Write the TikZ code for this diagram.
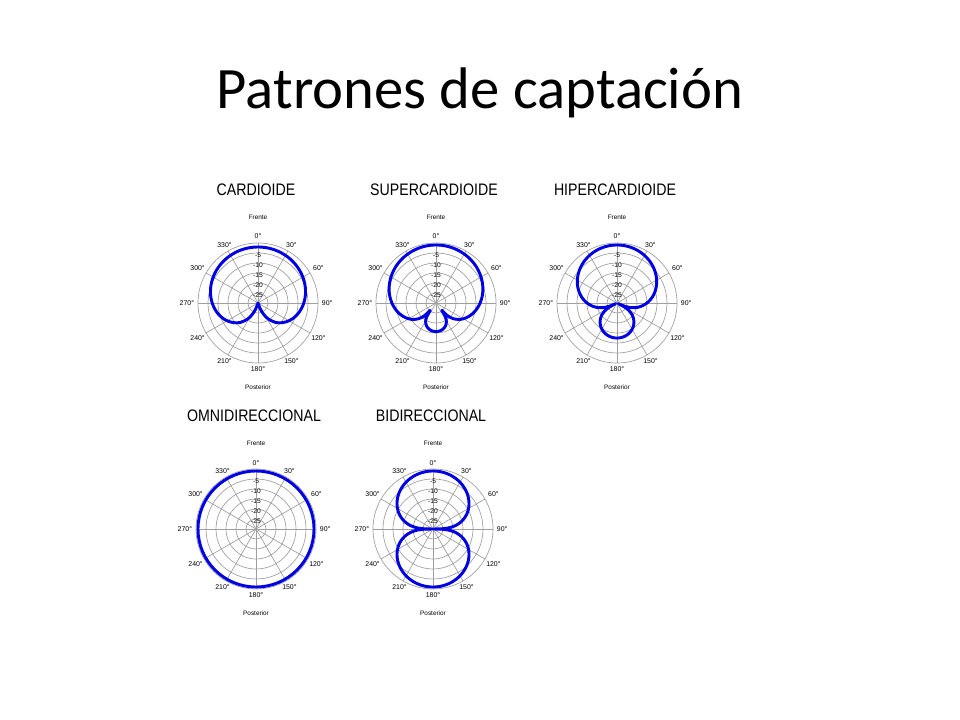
\documentclass[tikz,border=0pt]{standalone}
\usepackage{fontspec}
\setmainfont{Carlito}
\newfontfamily\plotfont{Liberation Sans}
\begin{document}
\begin{tikzpicture}[x=0.75pt,y=-0.75pt,
  gridline/.style={draw=gray!75, line width=0.5pt},
  patt/.style={draw=blue!90!black, line width=2.2pt, line join=round},
  angl/.style={font=\plotfont\fontsize{5.2}{6}\selectfont, inner sep=0.5pt},
  dbl/.style={font=\plotfont\fontsize{5}{6}\selectfont, inner sep=0.3pt},
  ttl/.style={font=\plotfont\fontsize{12.5}{14}\selectfont, xscale=0.85},
  side/.style={font=\plotfont\fontsize{4.8}{5}\selectfont, inner sep=0pt}]
\useasboundingbox (0,0) rectangle (960,720);
\fill[white] (0,0) rectangle (960,720);
\node[font=\fontsize{44}{50}\selectfont] (title) at (480,93) {Patrones de captación};

\newcommand{\gridplot}[5]{%
  \begin{scope}[shift={(#1,#2)}]
    \foreach \r in {10,20,...,60} \draw[gridline] (0,0) circle[radius=\r];
    \foreach \t in {0,30,...,330} \draw[gridline] (0,0) -- ({60*sin(\t)},{-60*cos(\t)});
    \foreach \t in {0,30,...,330} {
      \pgfmathsetmacro{\anc}{270-\t}
      \node[angl, anchor=\anc] at ({63*sin(\t)},{-63*cos(\t)}) {\t°};
    }
    \foreach \d/\r in {5/50,10/40,15/30,20/20,25/10}
      \node[dbl] at (0,{-\r+2}) {-\d};
    \node[side] (#5front) at (0,-86) {Frente};
    \node[side] (#5back) at (0,84) {Posterior};
    \node[ttl] (#5title) at (-2,-113) {#3};
    #4
  \end{scope}}

% CARDIOIDE
\gridplot{258}{303}{CARDIOIDE}{%
  \draw[patt] plot[domain=0:360, samples=241] ({(56*max(0.0,1+(20*log10(max(0.5+0.5*cos(\x),0.0001)))/33))*sin(\x)},{-(56*max(0.0,1+(20*log10(max(0.5+0.5*cos(\x),0.0001)))/33))*cos(\x)}) -- cycle;}{card}
% SUPERCARDIOIDE
\gridplot{436}{303}{SUPERCARDIOIDE}{%
  \draw[patt] plot[domain=0:360, samples=241] ({(58*pow(max(abs(0.44+0.56*cos(\x)),0.0001),0.334))*sin(\x)},{-(58*pow(max(abs(0.44+0.56*cos(\x)),0.0001),0.334))*cos(\x)}) -- cycle;}{super}
% HIPERCARDIOIDE
\gridplot{617}{303}{HIPERCARDIOIDE}{%
  \draw[patt] plot[domain=0:360, samples=241] ({(58*pow(max(abs(0.3+0.7*cos(\x)),0.0001),0.55))*sin(\x)},{-(58*pow(max(abs(0.3+0.7*cos(\x)),0.0001),0.55))*cos(\x)}) -- cycle;}{hyper}
% OMNIDIRECCIONAL
\gridplot{256}{529}{OMNIDIRECCIONAL}{%
  \draw[patt] (0,0) circle[radius=58];}{omni}
% BIDIRECCIONAL
\gridplot{433}{529}{BIDIRECCIONAL}{%
  \draw[patt] plot[domain=0:360, samples=361] ({(58*pow(max(abs(cos(\x)),0.0001),0.5))*sin(\x)},{-(58*pow(max(abs(cos(\x)),0.0001),0.5))*cos(\x)}) -- cycle;}{bi}
\end{tikzpicture}
\end{document}
